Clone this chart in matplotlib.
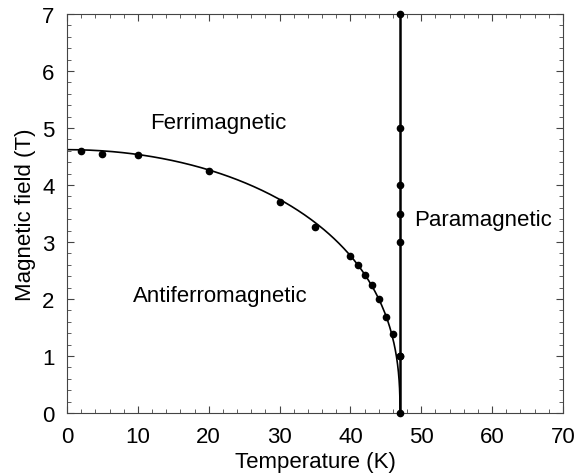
import numpy as np
import matplotlib
matplotlib.use("Agg")
import matplotlib.pyplot as plt
from matplotlib.ticker import MultipleLocator

plt.rcParams['font.family'] = ['Liberation Sans', 'DejaVu Sans']

# Phase boundary data points (antiferro / ferri boundary)
T_af = [2, 5, 10, 20, 30, 35, 40, 41, 42, 43, 44, 45, 46, 47]
H_af = [4.60, 4.55, 4.52, 4.24, 3.70, 3.26, 2.75, 2.60, 2.43, 2.25, 2.00, 1.69, 1.39, 1.00]

# Paramagnetic boundary data points
T_para = [47, 47, 47, 47, 47, 47, 47]
H_para = [7.0, 5.0, 4.0, 3.5, 3.0, 1.0, 0.0]

# Fit parameters of the boundary curve H = H0 (1 - (T/Tc)^2)^beta
H0, Tc, beta = 4.62, 47.0, 0.40

fig = plt.figure(figsize=(5.81, 4.77), dpi=100)
ax = fig.add_axes([0.1153, 0.132, 0.8537, 0.8366])

t = np.concatenate([np.linspace(0, 46, 200), np.linspace(46, Tc, 400)])
h = H0 * np.clip(1 - (t / Tc) ** 2, 0, None) ** beta
ax.plot(t, h, color='black', lw=1.2, zorder=2)
ax.plot([Tc, Tc], [0, 7], color='black', lw=1.8, zorder=2)

ax.plot(T_af, H_af, 'o', color='black', ms=4.5, zorder=3)
ax.plot(T_para, H_para, 'o', color='black', ms=4.5, zorder=3, clip_on=False)

fs = 16
ax.text(21.4, 5.09, 'Ferrimagnetic', ha='center', va='center', fontsize=fs)
ax.text(21.6, 2.07, 'Antiferromagnetic', ha='center', va='center', fontsize=fs)
ax.text(58.7, 3.4, 'Paramagnetic', ha='center', va='center', fontsize=fs)

ax.set_xlim(0, 70)
ax.set_ylim(0, 7)
ax.xaxis.set_major_locator(MultipleLocator(10))
ax.xaxis.set_minor_locator(MultipleLocator(2))
ax.yaxis.set_major_locator(MultipleLocator(1))
ax.yaxis.set_minor_locator(MultipleLocator(0.2))
ax.tick_params(which='both', direction='in', top=True, right=True, labelsize=fs, color='#444444')
ax.tick_params(which='major', length=5)
ax.tick_params(which='minor', length=3)
ax.tick_params(axis='x', pad=9)
ax.tick_params(axis='y', pad=9)
for s in ax.spines.values():
    s.set_color('#444444')
ax.set_xlabel('Temperature (K)', fontsize=fs, labelpad=3)
ax.set_ylabel('Magnetic field (T)', fontsize=fs, labelpad=4)

fig.savefig('out.png', dpi=100)
